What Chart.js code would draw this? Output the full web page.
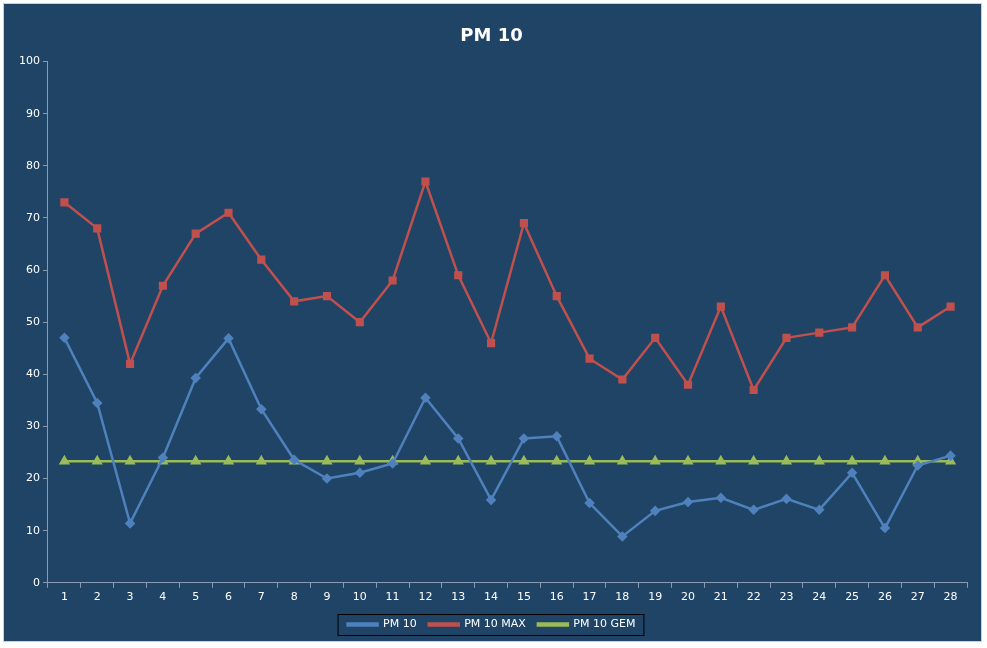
<!DOCTYPE html>
<html><head><meta charset="utf-8">
<script src="https://cdn.jsdelivr.net/npm/chart.js@4"></script>
<style>html,body{margin:0;padding:0;background:#fff}#w{position:absolute;left:3px;top:3px;width:979px;height:639px;background:#1F4466;border:1px solid #c8d0da;box-sizing:border-box}</style>
</head><body><div id="w"><canvas id="c"></canvas></div>
<script>
const categories=['1','2','3','4','5','6','7','8','9','10','11','12','13','14','15','16','17','18','19','20','21','22','23','24','25','26','27','28'];
const pm10=[47,34.5,11.4,24,39.3,46.9,33.3,23.6,20,21.1,22.9,35.5,27.7,15.9,27.7,28.1,15.3,8.9,13.8,15.5,16.3,14,16.1,14,21.1,10.5,22.5,24.4];
const pm10max=[73,68,42,57,67,71,62,54,55,50,58,77,59,46,69,55,43,39,47,38,53,37,47,48,49,59,49,53];
const pm10gem=Array(28).fill(23.3);
const yTicks=[0,10,20,30,40,50,60,70,80,90,100];
const legendBox={id:'lb',afterDraw(c){const l=c.legend;if(!l||!l.legendHitBoxes.length)return;const h=l.legendHitBoxes;const x0=h[0].left-10,x1=h[h.length-1].left+h[h.length-1].width+8;const y0=h[0].top-5,y1=h[0].top+h[0].height+5;const g=c.ctx;g.save();g.strokeStyle='#000';g.lineWidth=1;g.strokeRect(x0+.5,y0+.5,x1-x0,y1-y0);g.restore();}};
Chart.defaults.font.family='Verdana, "DejaVu Sans", sans-serif';
new Chart(document.getElementById('c'),{type:'line',
data:{labels:categories,datasets:[
{label:'PM 10',data:pm10,borderColor:'#4F81BD',backgroundColor:'#4F81BD',pointStyle:'rectRot',pointRadius:3.5,borderWidth:2.5},
{label:'PM 10 MAX',data:pm10max,borderColor:'#C0504D',backgroundColor:'#C0504D',pointStyle:'rect',pointRadius:4,borderWidth:2.5},
{label:'PM 10 GEM',data:pm10gem,borderColor:'#9BBB59',backgroundColor:'#9BBB59',pointStyle:'triangle',pointRadius:4,borderWidth:2.5}]},
options:{responsive:true,maintainAspectRatio:false,animation:false,
layout:{padding:{left:12,right:14,top:12,bottom:1}},
plugins:{title:{display:true,text:'PM 10',color:'#fff',font:{size:18,weight:'bold'},padding:{top:10,bottom:14}},
legend:{position:'bottom',labels:{color:'#fff',font:{size:11},boxWidth:30,boxHeight:2,padding:12}},tooltip:{enabled:false}},
scales:{x:{offset:true,grid:{offset:true,display:true,drawOnChartArea:false,color:'#8a9bb0',tickLength:5},border:{color:'#8a9bb0'},ticks:{color:'#fff',font:{size:11}}},
y:{min:0,max:100,afterBuildTicks(a){a.ticks=yTicks.map(v=>({value:v}));},grid:{drawOnChartArea:false,color:'#8a9bb0',tickLength:5},border:{color:'#8a9bb0'},ticks:{color:'#fff',font:{size:11}}}}}
,plugins:[legendBox]});
</script></body></html>
